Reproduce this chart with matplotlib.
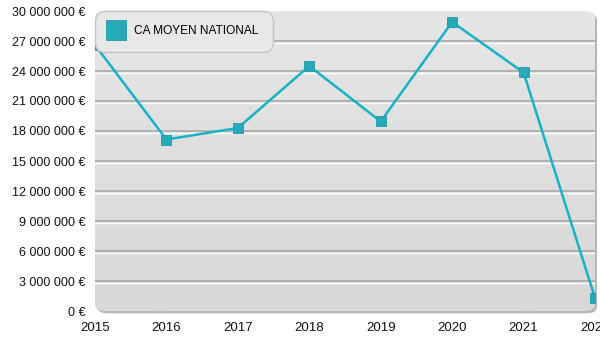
import matplotlib
matplotlib.use("Agg")
import matplotlib.pyplot as plt
from matplotlib.patches import FancyBboxPatch
from matplotlib.lines import Line2D
from matplotlib.ticker import FuncFormatter
import numpy as np

plt.rcParams["font.family"] = ["Liberation Sans", "DejaVu Sans"]

years = [2015, 2016, 2017, 2018, 2019, 2020, 2021, 2022]
ca_moyen = [26_600_000, 17_150_000, 18_300_000, 24_500_000,
            18_950_000, 28_900_000, 23_850_000, 1_300_000]
series_label = "CA MOYEN NATIONAL"

LINE = "#16b3c6"
MARK = "#27a9b8"

fig = plt.figure(figsize=(6, 3.5), dpi=100)
ax = fig.add_axes([95 / 600, 39 / 350, 500 / 600, 300 / 350])
ax.set_xlim(years[0], years[-1])
ax.set_ylim(0, 30_000_000)

# rounded panel with a soft vertical gradient and a faint drop shadow
shadow = FancyBboxPatch((0.004, -0.008), 1.0, 1.0,
                        boxstyle="round,pad=0,rounding_size=0.022",
                        transform=ax.transAxes, facecolor="#b8b8b8",
                        edgecolor="none", zorder=0, clip_on=False)
ax.add_patch(shadow)
panel = FancyBboxPatch((0, 0), 1.0, 1.0,
                       boxstyle="round,pad=0,rounding_size=0.022",
                       transform=ax.transAxes, facecolor="none",
                       edgecolor="none", zorder=0.5, clip_on=False)
ax.add_patch(panel)
grad = np.linspace(0, 1, 256).reshape(-1, 1)
img = ax.imshow(grad, extent=(0, 1, 0, 1), transform=ax.transAxes,
                cmap=matplotlib.colors.LinearSegmentedColormap.from_list(
                    "bg", ["#e6e6e6", "#d8d8d8"]),
                origin="upper", aspect="auto", zorder=0.6)
img.set_clip_path(panel)

for s in ax.spines.values():
    s.set_visible(False)

yt = np.arange(0, 30_000_001, 3_000_000)
ax.set_yticks(yt)
ax.yaxis.set_major_formatter(FuncFormatter(
    lambda v, _: f"{v:,.0f}".replace(",", " ") + " \u20ac"))
ax.set_xticks(years)
ax.tick_params(length=0, labelsize=9, colors="#111111")
ax.tick_params(axis="y", pad=7)
ax.tick_params(axis="x", pad=8, labelsize=9.5)

# embossed grid lines: grey line with a white highlight beneath
for v in yt[1:-1]:
    ax.axhline(v, color="#a9a9a9", lw=1.2, zorder=1)
    ax.plot([0, 1], [v, v], color="white", lw=1.0, zorder=0.9,
            transform=matplotlib.transforms.offset_copy(
                ax.get_yaxis_transform(), fig=fig, y=-1.3, units="points"))

ax.plot(years, ca_moyen, color=LINE, lw=1.8, zorder=3)
ax.plot(years, ca_moyen, ls="none", marker="s", markersize=7.6,
        markerfacecolor=MARK, markeredgecolor="#1f9aa8",
        markeredgewidth=0.6, zorder=4)

handle = Line2D([], [], ls="none", marker="s", markersize=14,
                markerfacecolor=MARK, markeredgecolor="#1f9aa8",
                markeredgewidth=0.6)
leg = ax.legend([handle], [series_label], loc="upper left",
                bbox_to_anchor=(0, 1), borderaxespad=0, fontsize=8.6,
                frameon=True, fancybox=True, shadow=False,
                facecolor="#e8e8e8", edgecolor="#c4c4c4",
                handletextpad=1.0, borderpad=1.2, handlelength=1.05)
leg.get_frame().set_alpha(1)
leg.get_frame().set_boxstyle("round,pad=0.,rounding_size=0.8")
leg.set_zorder(5)

fig.savefig("out.png", dpi=100)
